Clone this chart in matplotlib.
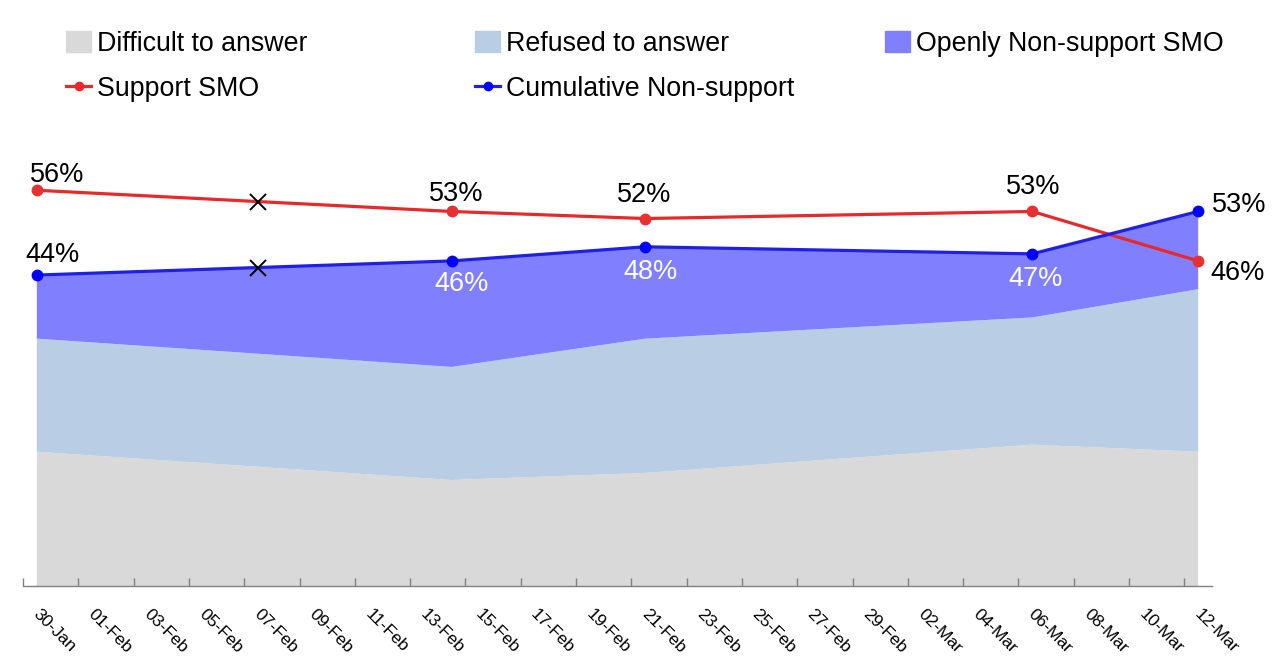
import pandas as pd
import matplotlib
matplotlib.use("Agg")
import matplotlib.pyplot as plt
import matplotlib.dates as mdates
import matplotlib.transforms as mtransforms
from matplotlib.patches import Patch
from matplotlib.lines import Line2D

plt.rcParams["font.family"] = ["Liberation Sans", "DejaVu Sans"]

# survey waves
dates = pd.to_datetime(["2024-01-30", "2024-02-14", "2024-02-21", "2024-03-06", "2024-03-12"])
difficult = [19, 15, 16, 20, 19]
refused = [16, 16, 19, 18, 23]
openly_non = [9, 15, 13, 9, 11]
cumulative = [44, 46, 48, 47, 53]
support = [56, 53, 52, 53, 46]

# cross markers on the lines
event_dates = pd.to_datetime(["2024-02-07"])
event_support = [54.4]
event_cumulative = [45.0]

tick_dates = pd.date_range("2024-01-30", "2024-03-12", freq="2D")

c_difficult = "#d9d9d9"
c_refused = "#b9cde5"
c_openly = "#8080ff"
c_support = "#e8292b"
c_cumul = "#1f1fe6"

fig = plt.figure(figsize=(12.8, 6.7), dpi=100)
ax = fig.add_axes([23 / 1280, 1 - 586 / 670, (1212 - 23) / 1280, 424 / 670])

ax.stackplot(dates, difficult, refused, openly_non,
             colors=[c_difficult, c_refused, c_openly], linewidth=0)

ax.plot(dates, support, color=c_support, lw=2.3, marker="o", ms=7.5,
        mfc="#e83030", mec="#e83030", zorder=4)
ax.plot(dates, cumulative, color=c_cumul, lw=2.3, marker="o", ms=7.5,
        mfc="#0000ff", mec="#0000ff", zorder=4)
ax.plot(event_dates, event_support, ls="none", marker="x", ms=12, mew=1.4, color="black", zorder=5)
ax.plot(event_dates, event_cumulative, ls="none", marker="x", ms=12, mew=1.4, color="black", zorder=5)

# data labels (offsets in pixels, baseline-aligned)
sup_off = [(20, 8), (5, 10), (-1, 17), (1, 17), (39, -19)]
cum_off = [(16, 13), (10, -30), (5, -32), (3, -32), (41, -1)]
cum_col = ["black", "white", "white", "white", "black"]
for d, v, (dx, dy) in zip(dates, support, sup_off):
    ax.annotate(f"{v}%", (d, v), xytext=(dx, dy), textcoords="offset pixels",
                ha="center", va="baseline", fontsize=19.5, color="black", zorder=6)
for d, v, (dx, dy), col in zip(dates, cumulative, cum_off, cum_col):
    ax.annotate(f"{v}%", (d, v), xytext=(dx, dy), textcoords="offset pixels",
                ha="center", va="baseline", fontsize=19.5, color=col, zorder=6)

ax.set_xlim(dates[0] - pd.Timedelta(hours=12), dates[-1] + pd.Timedelta(hours=12))
ax.set_ylim(0, 60)

ax.set_xticks(tick_dates)
ax.xaxis.set_major_formatter(mdates.DateFormatter("%d-%b"))
ax.set_xticks(tick_dates - pd.Timedelta(hours=12), minor=True)
ax.tick_params(axis="x", which="major", length=0, pad=15, labelsize=12.5)
ax.tick_params(axis="x", which="minor", length=6, width=1, color="#808080", direction="in")
shift = mtransforms.ScaledTranslation(4 / 100, 0, fig.dpi_scale_trans)
for lbl in ax.get_xticklabels():
    lbl.set_rotation(-45)
    lbl.set_ha("left")
    lbl.set_va("top")
    lbl.set_rotation_mode("anchor")
    lbl.set_transform(lbl.get_transform() + shift)

ax.set_yticks([])
for s in ["top", "right", "left"]:
    ax.spines[s].set_visible(False)
ax.spines["bottom"].set_color("#808080")
ax.spines["bottom"].set_linewidth(1)
ax.patch.set_visible(False)

# legend, three columns like the original
h_diff = Patch(color=c_difficult, label="Difficult to answer")
h_ref = Patch(color=c_refused, label="Refused to answer")
h_open = Patch(color=c_openly, label="Openly Non-support SMO")
h_sup = Line2D([], [], color=c_support, lw=2.3, marker="o", ms=6, label="Support SMO")
h_cum = Line2D([], [], color=c_cumul, lw=2.3, marker="o", ms=6, mfc="#0000ff", mec="#0000ff",
               label="Cumulative Non-support")

legend_cols = [([h_diff, h_sup], 66), ([h_ref, h_cum], 475), ([h_open], 885)]
for handles, xpix in legend_cols:
    fig.legend(handles=handles, loc="upper left", bbox_to_anchor=(xpix / 1280, 1 - 31 / 670),
               frameon=False, fontsize=19.3, handlelength=0.95, handleheight=0.85,
               handletextpad=0.2, labelspacing=0.7, borderpad=0, borderaxespad=0)

fig.savefig("out.png", dpi=100)
